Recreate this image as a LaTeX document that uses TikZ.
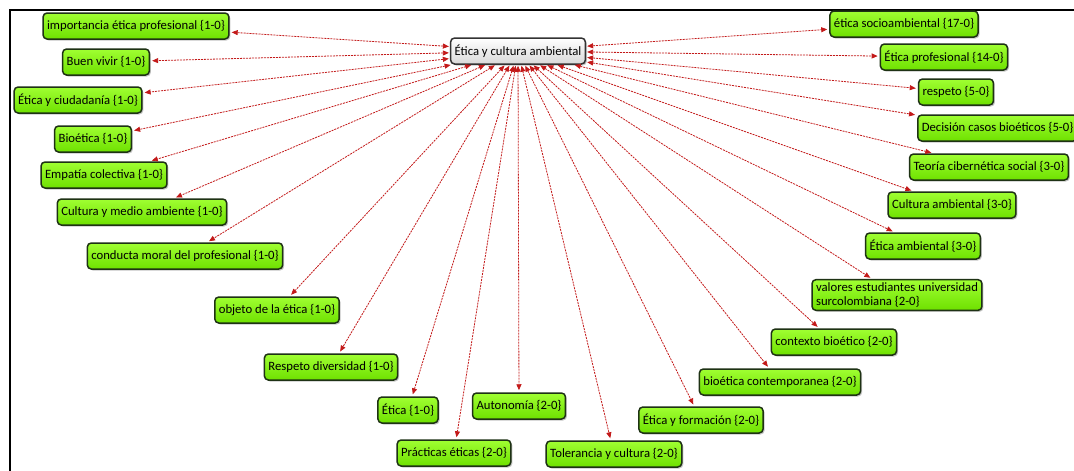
\documentclass[tikz,border=0pt]{standalone}
\usepackage{fontspec}
\setmainfont{Carlito}
\usetikzlibrary{arrows.meta,shadows}
\definecolor{leafgreen}{RGB}{160,255,50}
\definecolor{leafdark}{RGB}{110,225,0}
\definecolor{rimgreen}{RGB}{30,50,20}
\definecolor{linkred}{RGB}{195,25,25}
\tikzset{
  concept/.style={draw=rimgreen,line width=1.5pt,rounded corners=4pt,
    top color=leafgreen,bottom color=leafdark,text=black,
    font=\fontsize{12.7}{13.5}\selectfont,minimum height=26pt,inner xsep=4pt,
    drop shadow={shadow xshift=1.5pt,shadow yshift=-1.5pt,opacity=.45}},
  core/.style={concept,top color=white,bottom color=black!15,draw=black!80},
  link/.style={{Triangle[length=6pt,width=5pt]}-{Triangle[length=6pt,width=5pt]},
    linkred,dash pattern=on 2pt off 1pt,line width=.8pt,shorten >=2pt,shorten <=1pt}
}
\begin{document}
\begin{tikzpicture}[x=1pt,y=-1pt]
  \useasboundingbox (0,0) rectangle (1074,471);
  \clip (0,0) rectangle (1074,471);
  \fill[white] (0,0) rectangle (1074,471);
  \draw[line width=1.6pt] (10,471) -- (10,10) -- (1074,10);
  % centre
  \node[core] (core) at (518,51) {Ética y cultura ambiental};
  % left side
  \node[concept] (imp) at (136,26) {importancia ética profesional \{1-0\}};
  \node[concept] (buen) at (106,62) {Buen vivir \{1-0\}};
  \node[concept] (ciud) at (78,100) {Ética y ciudadanía \{1-0\}};
  \node[concept] (bioe) at (93,139) {Bioética \{1-0\}};
  \node[concept] (empa) at (104,175) {Empatía colectiva \{1-0\}};
  \node[concept] (cma) at (142,212) {Cultura y medio ambiente \{1-0\}};
  \node[concept] (cond) at (185,256) {conducta moral del profesional \{1-0\}};
  \node[concept] (obj) at (277,310) {objeto de la ética \{1-0\}};
  \node[concept] (resp) at (331,367) {Respeto diversidad \{1-0\}};
  \node[concept] (etica) at (408,410) {Ética \{1-0\}};
  % bottom
  \node[concept] (prac) at (454,453) {Prácticas éticas \{2-0\}};
  \node[concept] (auto) at (519,406) {Autonomía \{2-0\}};
  \node[concept] (tole) at (614,454) {Tolerancia y cultura \{2-0\}};
  \node[concept] (form) at (701,420) {Ética y formación \{2-0\}};
  \node[concept] (bcon) at (780,382) {bioética contemporanea \{2-0\}};
  \node[concept] (ctx) at (834,342) {contexto bioético \{2-0\}};
  % right side
  \node[concept,align=left] (val) at (897,295) {valores estudiantes universidad\\surcolombiana \{2-0\}};
  \node[concept] (eamb) at (923,246) {Ética ambiental \{3-0\}};
  \node[concept] (camb) at (952,205) {Cultura ambiental \{3-0\}};
  \node[concept] (teor) at (989,167) {Teoría cibernética social \{3-0\}};
  \node[concept,anchor=west] (deci) at (917,128) {Decisión casos bioéticos \{5-0\}};
  \node[concept] (respt) at (956,92) {respeto \{5-0\}};
  \node[concept] (eprof) at (944,57) {Ética profesional \{14-0\}};
  \node[concept] (esoc) at (904,24) {ética socioambiental \{17-0\}};
  % links
  \foreach \n in {imp,buen,ciud,bioe,empa,cma,cond,obj,resp,etica,prac,auto,
                  tole,form,bcon,ctx,val,eamb,camb,teor,deci,respt,eprof,esoc}
    \draw[link] (core) -- (\n);
\end{tikzpicture}
\end{document}
